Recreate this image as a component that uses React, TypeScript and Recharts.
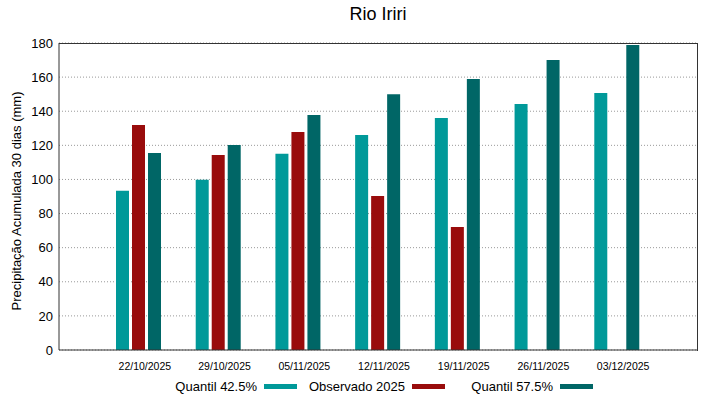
import React from 'react'
import { BarChart, Bar, XAxis, YAxis, CartesianGrid } from 'recharts'

// datas das janelas de 30 dias
const categories = ['22/10/2025', '29/10/2025', '05/11/2025', '12/11/2025', '19/11/2025', '26/11/2025', '03/12/2025']
const quantil425 = [93.3, 99.8, 115, 126, 136, 144.2, 150.7]
const observado2025: (number | null)[] = [131.9, 114.3, 127.8, 90.3, 72.1, null, null]
const quantil575 = [115.5, 120.2, 137.8, 150, 158.9, 170, 178.8]
const yTicks = [0, 20, 40, 60, 80, 100, 120, 140, 160, 180]

const series = [
  { key: 'q425', name: 'Quantil 42.5%', color: '#009999' },
  { key: 'obs', name: 'Observado 2025', color: '#990c0c' },
  { key: 'q575', name: 'Quantil 57.5%', color: '#006666' },
]

const data = categories.map((d, i) => ({
  date: d,
  q425: quantil425[i],
  obs: observado2025[i],
  q575: quantil575[i],
}))

const font = '"Liberation Sans", Arial, sans-serif'

export default function App() {
  return (
    <div style={{ position: 'absolute', left: 0, top: 0, width: 719, height: 399, background: '#fff', fontFamily: font }}>
      <div style={{ position: 'absolute', left: 59, width: 638, top: 4, textAlign: 'center', fontSize: 18, color: '#000' }}>
        Rio Iriri
      </div>
      <BarChart
        width={719}
        height={399}
        data={data}
        margin={{ top: 43, right: 22, left: 0, bottom: 0 }}
        barSize={13}
        barGap={3}
      >
        <CartesianGrid vertical={false} stroke="#999" strokeDasharray="1 2" />
        <XAxis
          dataKey="date"
          height={49}
          padding={{ left: 40, right: 40 }}
          tickLine={false}
          tickSize={10}
          tickMargin={3}
          interval={0}
          axisLine={{ stroke: '#333' }}
          tick={{ fontSize: 10.5, fill: '#000', fontFamily: font, dx: 6 }}
        />
        <YAxis
          width={59}
          domain={[0, 180]}
          ticks={yTicks}
          tickLine={false}
          tickSize={4}
          tickMargin={2}
          axisLine={{ stroke: '#333' }}
          tick={{ fontSize: 13, fill: '#000', fontFamily: font }}
        />
        {series.map(s => (
          <Bar key={s.key} dataKey={s.key} name={s.name} fill={s.color} isAnimationActive={false} />
        ))}
      </BarChart>
      {/* moldura superior e direita do gráfico */}
      <div
        style={{
          position: 'absolute',
          left: 59,
          top: 43,
          width: 638,
          height: 307,
          borderTop: '1px solid #333',
          borderRight: '1px solid #333',
          pointerEvents: 'none',
        }}
      />
      <div
        style={{
          position: 'absolute',
          left: 16,
          top: 201,
          transform: 'translate(-50%, -50%) rotate(-90deg)',
          whiteSpace: 'nowrap',
          fontSize: 13,
          color: '#000',
        }}
      >
        Precipitação Acumulada 30 dias (mm)
      </div>
      <div style={{ position: 'absolute', left: 149, top: 379, display: 'flex' }}>
        {series.map(s => (
          <div key={s.key} style={{ width: 148, display: 'flex', justifyContent: 'flex-end', alignItems: 'center', fontSize: 13, color: '#000' }}>
            <span>{s.name}</span>
            <span style={{ display: 'inline-block', width: 33, height: 5, background: s.color, marginLeft: 7 }} />
          </div>
        ))}
      </div>
    </div>
  )
}
